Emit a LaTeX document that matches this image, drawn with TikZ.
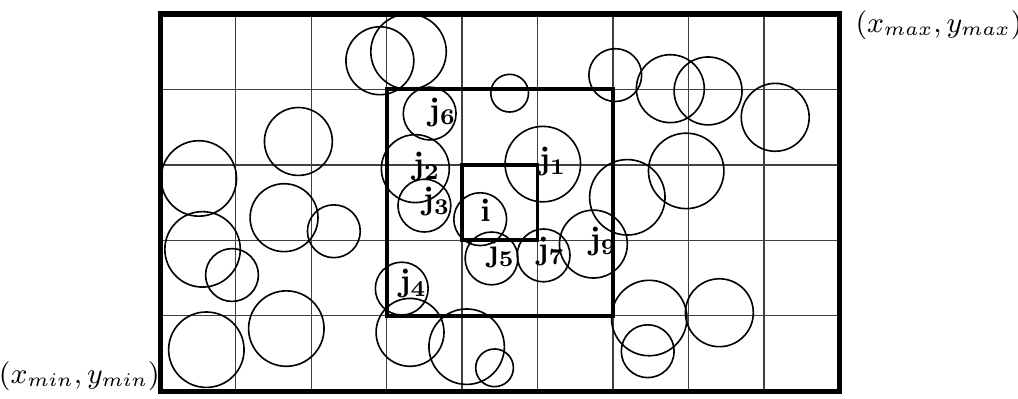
\documentclass[tikz,border=0pt]{standalone}
\usepackage{tikz}
\usetikzlibrary{positioning, calc}
\usepackage{amsmath,amssymb}

\begin{document}
\begin{tikzpicture}[x=0.822cm, y=0.822cm]
      \tikzstyle{gridline} = [draw=black!75, line width=0.4pt]
      \tikzstyle{border} = [draw=black, line width=1.6pt]
      \tikzstyle{window} = [draw=black, line width=1.2pt]
      \tikzstyle{ball} = [draw=black, line width=0.5pt]
      \tikzstyle{lbl} = [inner sep=0pt, font=\normalsize]
      \tikzstyle{corner} = [inner sep=0pt, font=\small]

      \useasboundingbox (-2.125,-0.103) rectangle (11.368,5.185);

      % Grid
      \coordinate (min) at (0,0);
      \coordinate (max) at (9,5);
      \draw[gridline, step=1] (min) grid (max);

      % Circles
      \draw[ball] (2.91,4.38) circle (0.45);
      \draw[ball] (3.29,4.50) circle (0.5);
      \draw[ball] (3.57,3.68) circle (0.35);
      \draw[ball] (1.83,3.31) circle (0.45);
      \draw[ball] (0.51,2.82) circle (0.5);
      \draw[ball] (3.38,2.95) circle (0.45);
      \draw[ball] (3.50,2.46) circle (0.35);
      \draw[ball] (4.63,3.95) circle (0.25);
      \draw[ball] (5.07,3.01) circle (0.5);
      \draw[ball] (6.03,4.19) circle (0.35);
      \draw[ball] (6.76,4.01) circle (0.45);
      \draw[ball] (7.26,3.98) circle (0.45);
      \draw[ball] (8.15,3.63) circle (0.45);
      \draw[ball] (6.97,2.92) circle (0.5);
      \draw[ball] (6.19,2.57) circle (0.5);
      \draw[ball] (0.56,1.88) circle (0.5);
      \draw[ball] (0.95,1.54) circle (0.35);
      \draw[ball] (1.64,2.30) circle (0.45);
      \draw[ball] (2.30,2.12) circle (0.35);
      \draw[ball] (3.20,1.36) circle (0.35);
      \draw[ball] (0.61,0.55) circle (0.5);
      \draw[ball] (1.67,0.83) circle (0.5);
      \draw[ball] (3.31,0.78) circle (0.45);
      \draw[ball] (4.06,0.59) circle (0.5);
      \draw[ball] (4.43,0.31) circle (0.25);
      \draw[ball] (4.24,2.28) circle (0.35);
      \draw[ball] (4.39,1.76) circle (0.35);
      \draw[ball] (5.08,1.80) circle (0.35);
      \draw[ball] (5.74,1.95) circle (0.45);
      \draw[ball] (6.48,0.97) circle (0.5);
      \draw[ball] (7.41,1.04) circle (0.45);
      \draw[ball] (6.46,0.53) circle (0.35);

      % Frames
      \draw[border] (min) rectangle (max);
      \draw[window] (3,1) rectangle (6,4);
      \draw[window] (4,2) rectangle (5,3);

      % Labels
      \node (i)  [lbl] at (4.31,2.40) {$\mathbf{i}$};
      \node (j1) [lbl] at (5.20,3.04) {$\mathbf{j_1}$};
      \node (j2) [lbl] at (3.53,2.98) {$\mathbf{j_2}$};
      \node (j3) [lbl] at (3.66,2.51) {$\mathbf{j_3}$};
      \node (j4) [lbl] at (3.35,1.43) {$\mathbf{j_4}$};
      \node (j5) [lbl] at (4.52,1.83) {$\mathbf{j_5}$};
      \node (j6) [lbl] at (3.74,3.70) {$\mathbf{j_6}$};
      \node (j7) [lbl] at (5.18,1.85) {$\mathbf{j_7}$};
      \node (j9) [lbl] at (5.87,1.98) {$\mathbf{j_9}$};

      % Corners
      \node (minlbl) [corner, anchor=south east] at (min) {$(x_{min},y_{min})$};
      \node (maxlbl) [corner, anchor=north west, xshift=0.17cm, yshift=0.043cm] at (max) {$(x_{max},y_{max})$};
    \end{tikzpicture}
\end{document}
